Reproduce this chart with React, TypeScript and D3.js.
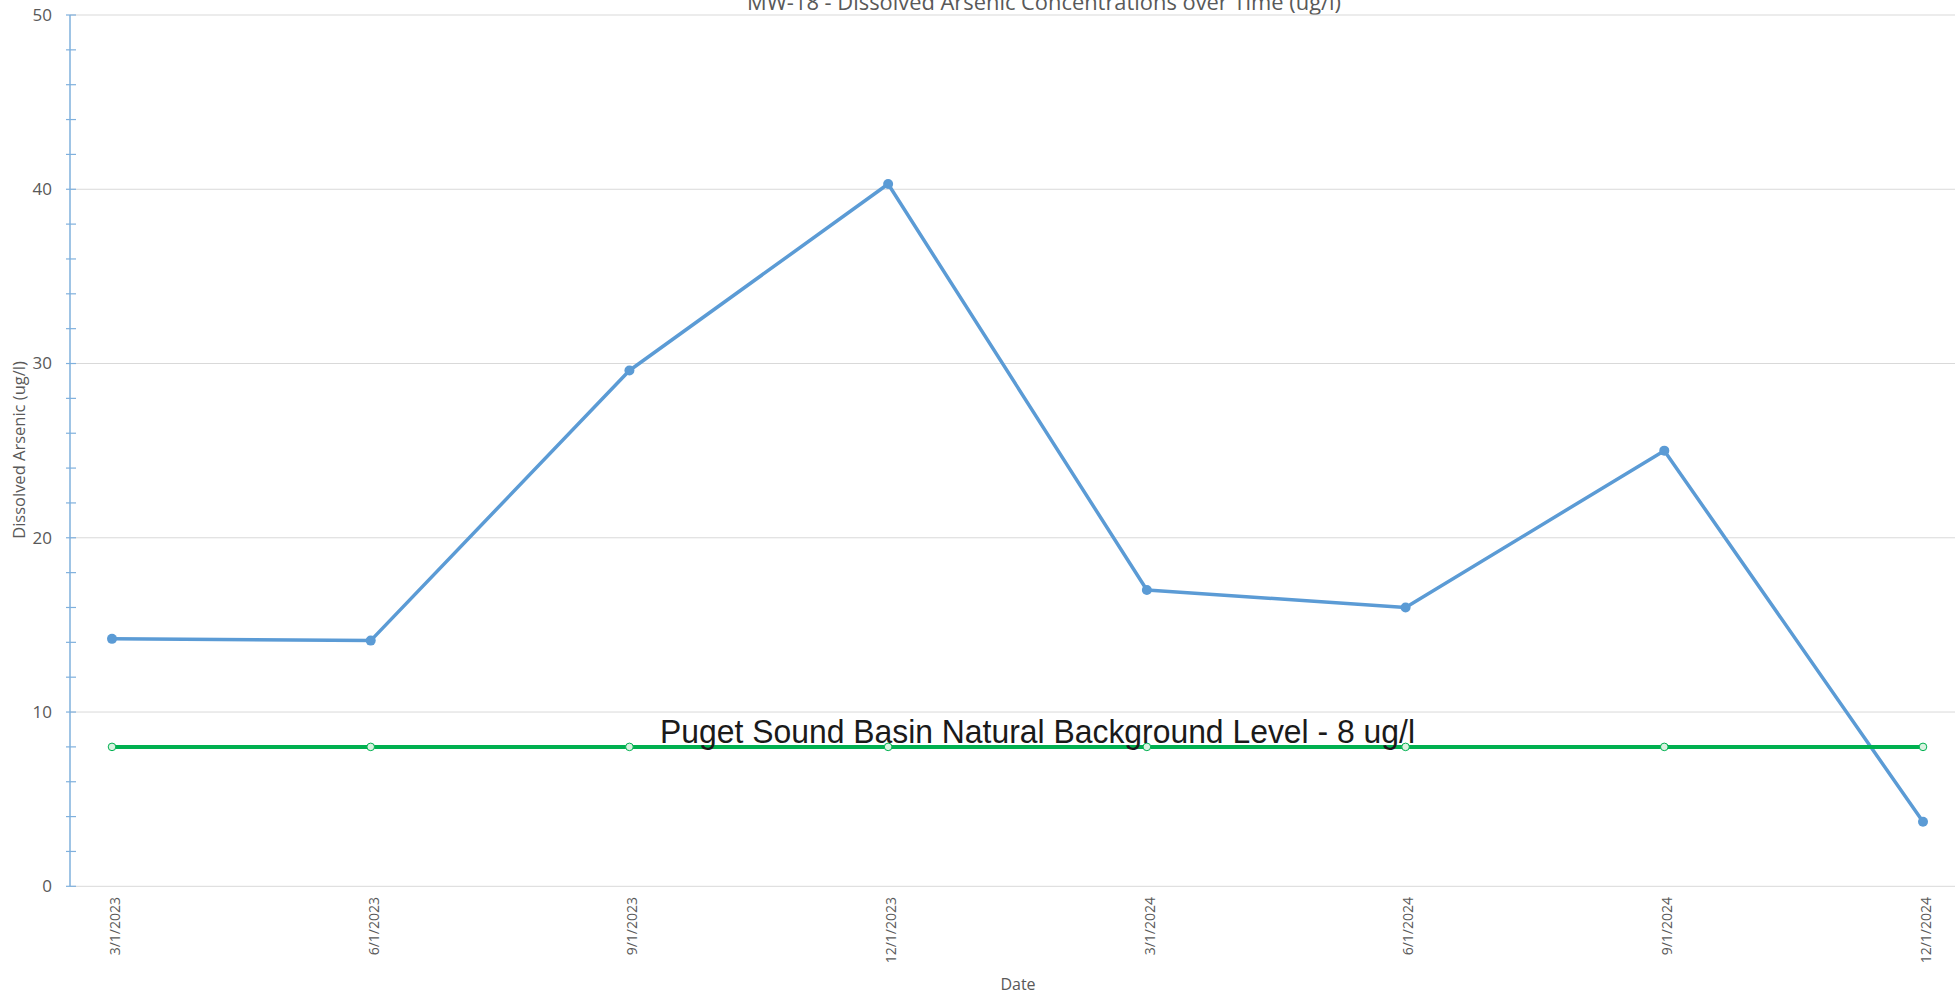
import React from 'react'
import * as d3 from 'd3'

const dates = ['3/1/2023', '6/1/2023', '9/1/2023', '12/1/2023', '3/1/2024', '6/1/2024', '9/1/2024', '12/1/2024']
const arsenic = [14.2, 14.1, 29.6, 40.3, 17.0, 16.0, 25.0, 3.7]
const background = [8, 8, 8, 8, 8, 8, 8, 8]
const yMajor = [0, 10, 20, 30, 40, 50]
const yMinor = [2, 4, 6, 8, 12, 14, 16, 18, 22, 24, 26, 28, 32, 34, 36, 38, 42, 44, 46, 48]

const W = 1959, H = 997
const FONT = '"Open Sans", "Segoe UI", sans-serif'
const GREY = '#595959'

export default function App(){
  const axisX = 70, plotRight = 1955
  const x = d3.scalePoint<string>().domain(dates).range([112, 1923])
  const y = d3.scaleLinear().domain([0, 50]).range([886.3, 15])

  const line = d3.line<number>().x((_, i) => x(dates[i]) as number).y(d => y(d))

  return (
    <svg width={W} height={H} style={{position:'absolute', left:0, top:0, background:'#fff'}}>
      {/* title, cut at the top edge like the original */}
      <text x={747} y={10} fontFamily={FONT} fontSize={21} fill={GREY}
        textLength={594} lengthAdjust='spacingAndGlyphs'>
        MW-18 - Dissolved Arsenic Concentrations over Time (ug/l)
      </text>

      {/* gridlines */}
      {yMajor.map(v => (
        <line key={'g'+v} x1={axisX} x2={plotRight} y1={y(v)} y2={y(v)} stroke='#d9d9d9' strokeWidth={1}/>
      ))}

      {/* y axis */}
      <line x1={axisX} x2={axisX} y1={y(50)} y2={y(0)} stroke='#7fb0dd' strokeWidth={1.5}/>
      {yMajor.concat(yMinor).map(v => (
        <line key={'t'+v} x1={axisX-4} x2={axisX+6} y1={y(v)} y2={y(v)} stroke='#7fb0dd' strokeWidth={1.2}/>
      ))}
      {yMajor.map(v => (
        <text key={'yl'+v} x={52} y={y(v)} dy='0.35em' textAnchor='end' fontFamily={FONT} fontSize={17} fill={GREY}>{v}</text>
      ))}
      <text transform={`translate(19,450) rotate(-90)`} dy='0.35em' textAnchor='middle' fontFamily={FONT} fontSize={16.5} fill={GREY}>
        Dissolved Arsenic (ug/l)
      </text>

      {/* x labels */}
      {dates.map(d => (
        <text key={'xl'+d} transform={`translate(${(x(d) as number)+3},897) rotate(-90)`} dy='0.35em' textAnchor='end'
          fontFamily={FONT} fontSize={14} fill={GREY}>{d}</text>
      ))}
      <text x={1018} y={990} textAnchor='middle' fontFamily={FONT} fontSize={16} fill={GREY}>Date</text>

      {/* arsenic series */}
      <path d={line(arsenic) || ''} fill='none' stroke='#5b9bd5' strokeWidth={3.5} strokeLinejoin='round'/>
      {arsenic.map((v, i) => (
        <circle key={'a'+i} cx={x(dates[i])} cy={y(v)} r={5} fill='#5b9bd5'/>
      ))}

      {/* background level */}
      <path d={line(background) || ''} fill='none' stroke='#00b050' strokeWidth={4}/>
      {background.map((v, i) => (
        <circle key={'b'+i} cx={x(dates[i])} cy={y(v)} r={3.8} fill='#d9f2e0' stroke='#00b050' strokeWidth={1}/>
      ))}

      <text x={660} y={743} fontFamily='"Liberation Sans Narrow", "Liberation Sans", Arial, sans-serif' fontSize={34} fill='#1a1a1a'
        textLength={755} lengthAdjust='spacingAndGlyphs'>
        Puget Sound Basin Natural Background Level - 8 ug/l
      </text>
    </svg>
  )
}
